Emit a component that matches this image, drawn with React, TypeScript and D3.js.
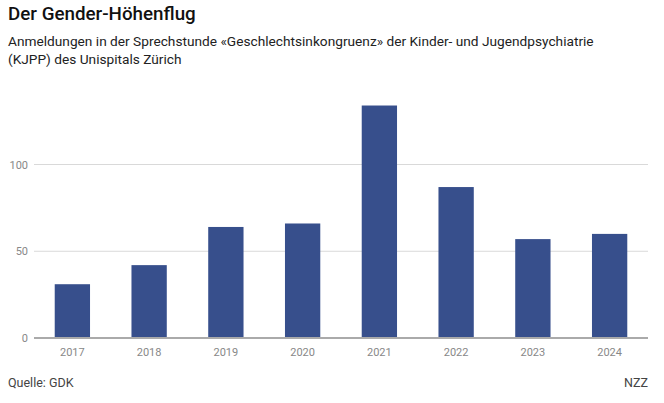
import * as d3 from 'd3';
import React, { useEffect, useRef } from 'react';

const years = ['2017', '2018', '2019', '2020', '2021', '2022', '2023', '2024'];
const registrations = [31, 42, 64, 66, 134, 87, 57, 60];
const yTicks = [0, 50, 100];

const title = 'Der Gender-Höhenflug';
const subtitleLines = [
	'Anmeldungen in der Sprechstunde «Geschlechtsinkongruenz» der Kinder- und Jugendpsychiatrie',
	'(KJPP) des Unispitals Zürich',
];
const source = 'Quelle: GDK';
const credit = 'NZZ';

const W = 664;
const H = 403;
const FONT = 'Roboto, "Noto Sans", sans-serif';

const App = () => {
	const svgRef = useRef<SVGSVGElement | null>(null);

	useEffect(() => {
		const svg = d3.select(svgRef.current);
		svg.selectAll('*').remove();

		const margin = { top: 95, right: 16, bottom: 65, left: 34 };
		const x = d3
			.scaleBand()
			.domain(years)
			.range([margin.left, W - margin.right])
			.paddingInner(0.54)
			.paddingOuter(0.27);
		const y = d3
			.scaleLinear()
			.domain([0, 140])
			.range([H - margin.bottom, H - margin.bottom - 140 * 1.735]);

		// title + subtitle
		svg.append('text')
			.attr('x', 8)
			.attr('y', 20)
			.text(title)
			.style('font-family', FONT)
			.style('font-size', '18.8px')
			.style('font-weight', 500)
			.style('fill', '#111');

		svg.append('g')
			.selectAll('text')
			.data(subtitleLines)
			.join('text')
			.attr('x', 8)
			.attr('y', (d, i) => 46 + i * 17.5)
			.text((d) => d)
			.style('font-family', FONT)
			.style('font-size', '13.7px')
			.style('fill', '#222');

		// gridlines
		const grid = svg.append('g');
		grid.selectAll('line')
			.data(yTicks.filter((t) => t > 0))
			.join('line')
			.attr('x1', margin.left)
			.attr('x2', W - margin.right)
			.attr('y1', (d) => y(d))
			.attr('y2', (d) => y(d))
			.style('stroke', '#d9d9d9')
			.style('stroke-width', 1);

		grid.selectAll('text')
			.data(yTicks)
			.join('text')
			.attr('x', 28)
			.attr('y', (d) => y(d) + 4)
			.attr('text-anchor', 'end')
			.text((d) => d)
			.style('font-family', FONT)
			.style('font-size', '11px')
			.style('fill', '#888');

		// bars
		svg.append('g')
			.selectAll('rect')
			.data(years.map((yr, i) => ({ yr, v: registrations[i] })))
			.join('rect')
			.attr('x', (d) => x(d.yr))
			.attr('y', (d) => y(d.v))
			.attr('width', x.bandwidth())
			.attr('height', (d) => y(0) - y(d.v))
			.style('fill', '#374f8c');

		// baseline
		svg.append('line')
			.attr('x1', margin.left)
			.attr('x2', W - margin.right)
			.attr('y1', y(0))
			.attr('y2', y(0))
			.style('stroke', '#aaaaaa')
			.style('stroke-width', 2);

		// x labels
		svg.append('g')
			.selectAll('text')
			.data(years)
			.join('text')
			.attr('x', (d) => x(d) + x.bandwidth() / 2)
			.attr('y', y(0) + 18)
			.attr('text-anchor', 'middle')
			.text((d) => d)
			.style('font-family', FONT)
			.style('font-size', '11px')
			.style('fill', '#888');

		// footer
		svg.append('text')
			.attr('x', 8)
			.attr('y', 387)
			.text(source)
			.style('font-family', FONT)
			.style('font-size', '12.5px')
			.style('fill', '#444');

		svg.append('text')
			.attr('x', W - margin.right)
			.attr('y', 387)
			.attr('text-anchor', 'end')
			.text(credit)
			.style('font-family', FONT)
			.style('font-size', '12.5px')
			.style('fill', '#444');
	}, []);

	return (
		<>
			<style>{'body{margin:0;background:#fff}'}</style>
			<svg ref={svgRef} width={W} height={H} style={{ display: 'block' }} />
		</>
	);
};

export default App;
